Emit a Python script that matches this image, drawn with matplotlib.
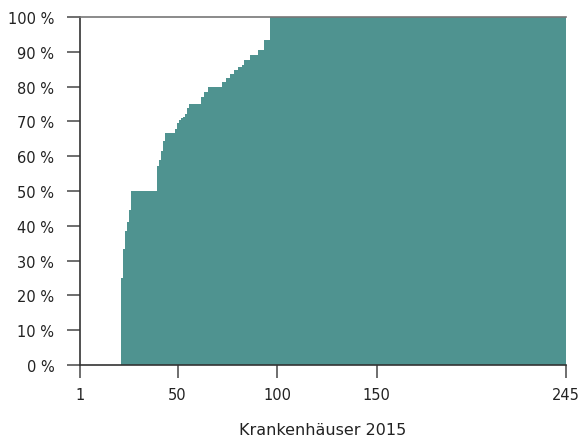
import matplotlib
matplotlib.use("Agg")
import matplotlib.pyplot as plt

# first hospital rank (sorted) at which the cumulative share changes, and the share in %
STEP_START = [22, 23, 24, 25, 26, 27, 40, 41, 42, 43, 44, 49, 50, 51, 52, 53, 54, 55, 56,
              62, 64, 66, 73, 75, 77, 79, 81, 83, 84, 87, 91, 94, 97]
STEP_SHARE = [25.0, 33.3, 38.5, 41.2, 44.4, 50.0, 57.3, 58.8, 61.5, 64.5, 66.7, 67.9, 69.6,
              70.4, 71.0, 71.4, 72.2, 73.9, 75.0, 76.9, 78.4, 80.0, 81.3, 82.6, 83.6, 84.8,
              85.7, 86.1, 87.5, 89.1, 90.4, 93.3, 100.0]
N_HOSPITALS = 245

X_TICKS = [1, 50, 100, 150, 245]
Y_TICKS = list(range(0, 101, 10))
X_LABEL = "Krankenhäuser 2015"

FILL_COLOR = "#4f9390"

plt.rcParams["font.family"] = ["DejaVu Sans"]

fig = plt.figure(figsize=(5.79, 4.39), dpi=100)
ax = fig.add_axes([0.1382, 0.1663, 0.9775 - 0.1382, 0.959 - 0.1663])

edges = [s - 0.5 for s in STEP_START] + [N_HOSPITALS]
ax.stairs(STEP_SHARE, edges, baseline=0, fill=True, color=FILL_COLOR, linewidth=0)

ax.set_xlim(1, N_HOSPITALS)
ax.set_ylim(0, 100)

ax.set_xticks(X_TICKS)
ax.set_xticklabels([str(t) for t in X_TICKS])
ax.set_yticks(Y_TICKS)
ax.set_yticklabels([f"{t} %" for t in Y_TICKS])

ax.tick_params(axis="both", colors="#555555", labelcolor="#222222", labelsize=10.5,
               length=9.5, width=1.2)
ax.tick_params(axis="y", pad=9)
ax.tick_params(axis="x", pad=6.5)

for side in ["left", "bottom"]:
    ax.spines[side].set_color("#333333")
    ax.spines[side].set_linewidth(1.2)
ax.spines["top"].set_color("#777777")
ax.spines["top"].set_linewidth(1.2)
ax.spines["right"].set_visible(False)

ax.set_xlabel(X_LABEL, fontsize=11.5, color="#222222", labelpad=14)

fig.savefig("out.png", dpi=100)
